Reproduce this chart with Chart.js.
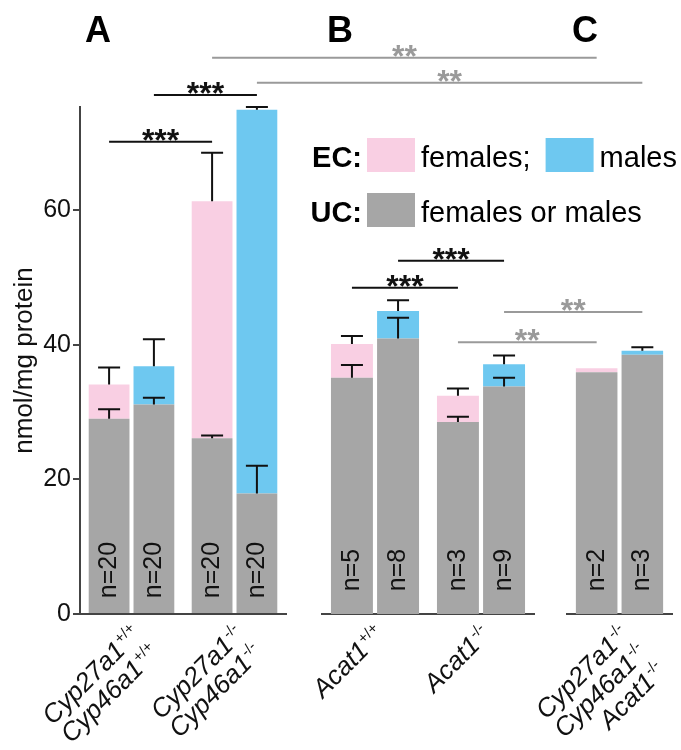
<!DOCTYPE html>
<html>
<head>
<meta charset="utf-8">
<script src="https://cdn.jsdelivr.net/npm/chart.js@4.4.1/dist/chart.umd.min.js"></script>
<style>
    html, body { margin: 0; padding: 0; background: #fff; }
    #wrap { position: relative; width: 681px; height: 750px; }
    canvas { position: absolute; left: 0; top: 0; width: 681px; height: 750px; }
</style>
</head>
<body>
<div id="wrap">
    <canvas id="panelA" width="681" height="750"></canvas>
    <canvas id="panelB" width="681" height="750"></canvas>
    <canvas id="panelC" width="681" height="750"></canvas>
</div>
<script>
// genotype groups, in drawing order
const genotypes = [
    [['Cyp27a1', '+/+'], ['Cyp46a1', '+/+']],
    [['Cyp27a1', '-/-'], ['Cyp46a1', '-/-']],
    [['Acat1', '+/+']],
    [['Acat1', '-/-']],
    [['Cyp27a1', '-/-'], ['Cyp46a1', '-/-'], ['Acat1', '-/-']],
];

// nmol/mg protein
const ucFemale = [29.0, 26.1, 35.1, 28.5, 35.9];
const ecFemale = [5.1, 35.2, 5.0, 3.9, 0.6];
const ucMale = [31.1, 17.9, 40.9, 33.8, 38.5];
const ecMale = [5.7, 57.0, 4.1, 3.3, 0.6];

// upper error bars (SD)
const ucFemaleSd = [1.4, 0.4, 1.9, 0.8, 0];
const totalFemaleSd = [2.5, 7.2, 1.2, 1.1, 0];
const ucMaleSd = [1.0, 4.1, 3.1, 1.3, 0];
const totalMaleSd = [4.0, 0.4, 1.6, 1.3, 0.5];

const nFemale = [20, 20, 5, 3, 2];
const nMale = [20, 20, 8, 9, 3];

const panelLetters = ['A', 'B', 'C'];
const panelGroups = [[0, 1], [2, 3], [4]];

// [group, sex, group, sex, level, label]
const brackets = [
    [0, 'f', 1, 'f', 70.15, '***'],
    [0, 'm', 1, 'm', 77.1, '***'],
    [1, 'f', 4, 'f', 82.6, '**'],
    [1, 'm', 4, 'm', 78.9, '**'],
    [2, 'f', 3, 'f', 48.45, '***'],
    [2, 'm', 3, 'm', 52.45, '***'],
    [3, 'f', 4, 'f', 40.35, '**'],
    [3, 'm', 4, 'm', 44.85, '**'],
];

const legendRows = [
    ['EC:', [['females;', 'pink'], ['males', 'blue']]],
    ['UC:', [['females or males', 'gray']]],
];

const FONT = '"Liberation Sans", Arial, Helvetica, sans-serif';
const COLORS = { gray: '#a6a6a6', pink: '#f9cfe3', blue: '#6ec8f0' };
const AXIS = '#444';
const SIG = { '***': '#111', '**': '#9a9a9a' };
const Y_MAX = 75.3;

const charts = [];

function drawGenotype(ctx, x, y, lines) {
    ctx.save();
    ctx.translate(x, y);
    ctx.rotate(-Math.PI / 4);
    ctx.fillStyle = '#111';
    ctx.textBaseline = 'alphabetic';
    lines.forEach(([name, sup], k) => {
        const ly = k * 26;
        ctx.font = `15px ${FONT}`;
        const sw = ctx.measureText(sup).width;
        ctx.textAlign = 'left';
        ctx.fillText(sup, -sw, ly - 10);
        ctx.font = `italic 26px ${FONT}`;
        ctx.textAlign = 'right';
        ctx.fillText(name, -sw - 1, ly);
    });
    ctx.restore();
}

const decor = {
    id: 'decor',
    afterDraw(chart, args, opts) {
        const { ctx, chartArea, scales: { x, y } } = chart;
        const idx = panelGroups[opts.panel];
        const sdSets = [ucFemaleSd, totalFemaleSd, ucMaleSd, totalMaleSd];
        ctx.save();

        // error bars
        ctx.strokeStyle = '#111';
        ctx.lineWidth = 2;
        chart.data.datasets.forEach((ds, d) => {
            chart.getDatasetMeta(d).data.forEach((bar, i) => {
                const sd = sdSets[d][idx[i]];
                if (!sd) return;
                const yTop = y.getPixelForValue(y.getValueForPixel(bar.y) + sd);
                ctx.beginPath();
                ctx.moveTo(bar.x, bar.y);
                ctx.lineTo(bar.x, yTop);
                ctx.moveTo(bar.x - 11, yTop);
                ctx.lineTo(bar.x + 11, yTop);
                ctx.stroke();
            });
        });

        // n= labels inside the bars
        ctx.fillStyle = '#111';
        ctx.font = `25px ${FONT}`;
        ctx.textAlign = 'center';
        ctx.textBaseline = 'middle';
        [[0, nFemale], [2, nMale]].forEach(([d, counts]) => {
            chart.getDatasetMeta(d).data.forEach((bar, i) => {
                ctx.save();
                ctx.translate(bar.x, chartArea.bottom - 44);
                ctx.rotate(-Math.PI / 2);
                ctx.fillText('n=' + counts[idx[i]], 0, 0);
                ctx.restore();
            });
        });

        // genotype labels
        idx.forEach((g, i) => {
            drawGenotype(ctx, x.getPixelForValue(i) + 11, chartArea.bottom + 22, genotypes[g]);
        });

        // panel letter
        ctx.font = `bold 36px ${FONT}`;
        ctx.textAlign = 'center';
        ctx.textBaseline = 'alphabetic';
        ctx.fillStyle = '#000';
        ctx.fillText(panelLetters[opts.panel], chartArea.left + 18, 42);
        ctx.restore();
    }
};

function barX(chart, g, sex) {
    const p = panelGroups.findIndex(list => list.includes(g));
    const c = charts[p] || chart;
    return c.getDatasetMeta(sex === 'f' ? 0 : 2).data[panelGroups[p].indexOf(g)].x;
}

const overlay = {
    id: 'overlay',
    afterDraw(chart) {
        const { ctx, scales: { y } } = chart;
        ctx.save();

        // significance lines
        brackets.forEach(([g1, s1, g2, s2, level, label]) => {
            const x1 = barX(chart, g1, s1);
            const x2 = barX(chart, g2, s2);
            const py = y.getPixelForValue(level);
            ctx.strokeStyle = SIG[label];
            ctx.lineWidth = 2;
            ctx.beginPath();
            ctx.moveTo(x1, py);
            ctx.lineTo(x2, py);
            ctx.stroke();
            ctx.fillStyle = SIG[label];
            ctx.font = `bold 32px ${FONT}`;
            ctx.textAlign = 'center';
            ctx.textBaseline = 'alphabetic';
            ctx.fillText(label, (x1 + x2) / 2, py + 9);
        });

        // legend
        legendRows.forEach(([head, items], r) => {
            const base = 167 + r * 55;
            ctx.fillStyle = '#000';
            ctx.font = `bold 29px ${FONT}`;
            ctx.textAlign = 'right';
            ctx.fillText(head, 362, base);
            let px = 367;
            ctx.textAlign = 'left';
            ctx.font = `29px ${FONT}`;
            items.forEach(([text, key]) => {
                ctx.fillStyle = COLORS[key];
                ctx.fillRect(px, base - 29, 48, 34);
                px += 54;
                ctx.fillStyle = '#000';
                ctx.fillText(text, px, base);
                px += ctx.measureText(text).width + 15;
            });
        });
        ctx.restore();
    }
};

const paddings = [
    { left: 0, right: 395, top: 107, bottom: 0 },
    { left: 322, right: 147, top: 107, bottom: 0 },
    { left: 567, right: 9, top: 107, bottom: 0 },
];

function makePanel(id, p) {
    const idx = panelGroups[p];
    const pick = arr => idx.map(g => arr[g]);
    const chart = new Chart(document.getElementById(id), {
        type: 'bar',
        data: {
            labels: idx.map(g => genotypes[g].map(l => l.join('')).join(' ')),
            datasets: [
                { label: 'UC females', data: pick(ucFemale), backgroundColor: COLORS.gray, stack: 'f' },
                { label: 'EC females', data: pick(ecFemale), backgroundColor: COLORS.pink, stack: 'f' },
                { label: 'UC males', data: pick(ucMale), backgroundColor: COLORS.gray, stack: 'm' },
                { label: 'EC males', data: pick(ecMale), backgroundColor: COLORS.blue, stack: 'm' },
            ],
        },
        options: {
            responsive: false,
            animation: false,
            events: [],
            layout: { padding: paddings[p] },
            datasets: { bar: { categoryPercentage: 0.87, barPercentage: 0.91, borderWidth: 0 } },
            plugins: {
                legend: { display: false },
                tooltip: { enabled: false },
                decor: { panel: p },
            },
            scales: {
                x: {
                    stacked: true,
                    grid: { display: false },
                    border: { display: true, color: AXIS, width: 2 },
                    ticks: { display: false },
                    afterFit(scale) { scale.height = 136; },
                },
                y: {
                    stacked: true,
                    display: p === 0,
                    min: 0,
                    max: Y_MAX,
                    ticks: {
                        stepSize: 20,
                        includeBounds: false,
                        padding: 2,
                        color: '#111',
                        font: { family: FONT, size: 25 },
                    },
                    grid: { drawOnChartArea: false, tickLength: 7, color: AXIS, lineWidth: 2 },
                    border: { color: AXIS, width: 2 },
                    title: {
                        display: true,
                        text: 'nmol/mg protein',
                        color: '#111',
                        font: { family: FONT, size: 26 },
                        padding: { top: 9, bottom: 0 },
                    },
                    afterFit(scale) { if (p === 0) scale.width = 80; },
                },
            },
        },
        plugins: p === 2 ? [decor, overlay] : [decor],
    });
    charts[p] = chart;
    return chart;
}

makePanel('panelA', 0);
makePanel('panelB', 1);
makePanel('panelC', 2);
</script>
</body>
</html>
